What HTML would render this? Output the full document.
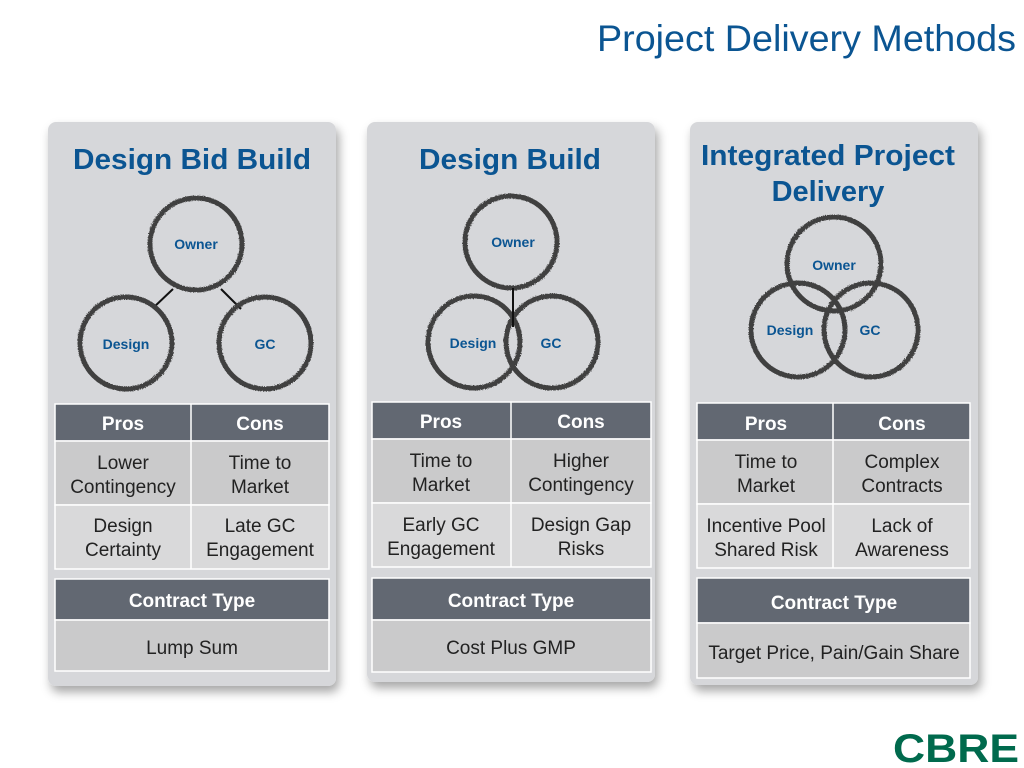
<!DOCTYPE html>
<html><head><meta charset="utf-8"><style>
html,body{margin:0;padding:0;background:#fff;width:1024px;height:768px;overflow:hidden}
svg{display:block}
text{font-family:"Liberation Sans",Arial,sans-serif}
.t{fill:#0b5592;font-weight:bold;font-size:29px;text-anchor:middle}
.h{fill:#fff;font-weight:bold;font-size:19px;text-anchor:middle}
.c{fill:#222;font-size:19px;text-anchor:middle}
.l{fill:#0b5592;font-weight:bold;font-size:14px;text-anchor:middle}
.ring{fill:none;stroke:#404040;stroke-width:5;filter:url(#rough)}
.g{stroke:#fff;stroke-width:1.5}
</style></head><body>
<svg width="1024" height="768" viewBox="0 0 1024 768" xmlns="http://www.w3.org/2000/svg">
<defs>
<filter id="sh" x="-10%" y="-10%" width="125%" height="125%"><feDropShadow dx="3" dy="6" stdDeviation="5" flood-color="#000" flood-opacity="0.35"/></filter>
<filter id="rough" x="-10%" y="-10%" width="120%" height="120%"><feTurbulence type="fractalNoise" baseFrequency="0.9" numOctaves="2" result="n"/><feDisplacementMap in="SourceGraphic" in2="n" scale="2.5"/></filter>
</defs>
<text x="1016" y="51" fill="#0b5592" font-size="37" text-anchor="end" textLength="419" lengthAdjust="spacingAndGlyphs">Project Delivery Methods</text>

<rect x="48" y="122" width="288" height="564" rx="8" fill="#d6d7da" filter="url(#sh)"/>
<rect x="367" y="122" width="288" height="560" rx="8" fill="#d6d7da" filter="url(#sh)"/>
<rect x="690" y="122" width="288" height="563" rx="8" fill="#d6d7da" filter="url(#sh)"/>

<!-- Panel 1 -->
<text class="t" x="192" y="169" textLength="238" lengthAdjust="spacingAndGlyphs">Design Bid Build</text>
<line x1="173" y1="289" x2="153" y2="308" stroke="#111" stroke-width="2"/>
<line x1="221" y1="289" x2="241" y2="309" stroke="#111" stroke-width="2"/>
<circle class="ring" cx="196" cy="244" r="46"/>
<circle class="ring" cx="126" cy="343" r="46"/>
<circle class="ring" cx="265" cy="343" r="46"/>
<text class="l" x="196" y="249">Owner</text>
<text class="l" x="126" y="349">Design</text>
<text class="l" x="265" y="349">GC</text>
<g class="g">
<rect x="55" y="404" width="274" height="37" fill="#626872"/>
<rect x="55" y="441" width="274" height="64" fill="#cacacb"/>
<rect x="55" y="505" width="274" height="64" fill="#d9d9da"/>
<line x1="191" y1="404" x2="191" y2="569"/>
<rect x="55" y="579" width="274" height="41" fill="#626872"/>
<rect x="55" y="620" width="274" height="51" fill="#cacacb"/>
</g>
<text class="h" x="123" y="430">Pros</text><text class="h" x="260" y="430">Cons</text>
<text class="c" x="123" y="469">Lower</text><text class="c" x="123" y="493">Contingency</text>
<text class="c" x="260" y="469">Time to</text><text class="c" x="260" y="493">Market</text>
<text class="c" x="123" y="532">Design</text><text class="c" x="123" y="556">Certainty</text>
<text class="c" x="260" y="532">Late GC</text><text class="c" x="260" y="556">Engagement</text>
<text class="h" x="192" y="607">Contract Type</text>
<text class="c" x="192" y="654">Lump Sum</text>

<!-- Panel 2 -->
<text class="t" x="510" y="169" textLength="182" lengthAdjust="spacingAndGlyphs">Design Build</text>
<circle class="ring" cx="511" cy="242" r="46"/>
<circle class="ring" cx="474" cy="342" r="46"/>
<circle class="ring" cx="552" cy="342" r="46"/>
<line x1="513" y1="288" x2="513" y2="327" stroke="#111" stroke-width="2"/>
<text class="l" x="513" y="247">Owner</text>
<text class="l" x="473" y="348">Design</text>
<text class="l" x="551" y="348">GC</text>
<g class="g">
<rect x="372" y="402" width="279" height="37" fill="#626872"/>
<rect x="372" y="439" width="279" height="64" fill="#cacacb"/>
<rect x="372" y="503" width="279" height="64" fill="#d9d9da"/>
<line x1="511" y1="402" x2="511" y2="567"/>
<rect x="372" y="578" width="279" height="42" fill="#626872"/>
<rect x="372" y="620" width="279" height="52" fill="#cacacb"/>
</g>
<text class="h" x="441" y="428">Pros</text><text class="h" x="581" y="428">Cons</text>
<text class="c" x="441" y="467">Time to</text><text class="c" x="441" y="491">Market</text>
<text class="c" x="581" y="467">Higher</text><text class="c" x="581" y="491">Contingency</text>
<text class="c" x="441" y="531">Early GC</text><text class="c" x="441" y="555">Engagement</text>
<text class="c" x="581" y="531">Design Gap</text><text class="c" x="581" y="555">Risks</text>
<text class="h" x="511" y="607">Contract Type</text>
<text class="c" x="511" y="654">Cost Plus GMP</text>

<!-- Panel 3 -->
<text class="t" x="828" y="165" textLength="254" lengthAdjust="spacingAndGlyphs">Integrated Project</text>
<text class="t" x="828" y="201">Delivery</text>
<circle class="ring" cx="834" cy="264" r="47"/>
<circle class="ring" cx="798" cy="330" r="47"/>
<circle class="ring" cx="871" cy="330" r="47"/>
<text class="l" x="834" y="270">Owner</text>
<text class="l" x="790" y="335">Design</text>
<text class="l" x="870" y="335">GC</text>
<g class="g">
<rect x="697" y="403" width="273" height="37" fill="#626872"/>
<rect x="697" y="440" width="273" height="64" fill="#cacacb"/>
<rect x="697" y="504" width="273" height="64" fill="#d9d9da"/>
<line x1="833" y1="403" x2="833" y2="568"/>
<rect x="697" y="578" width="273" height="45" fill="#626872"/>
<rect x="697" y="623" width="273" height="55" fill="#cacacb"/>
</g>
<text class="h" x="766" y="430">Pros</text><text class="h" x="902" y="430">Cons</text>
<text class="c" x="766" y="468">Time to</text><text class="c" x="766" y="492">Market</text>
<text class="c" x="902" y="468">Complex</text><text class="c" x="902" y="492">Contracts</text>
<text class="c" x="766" y="532">Incentive Pool</text><text class="c" x="766" y="556">Shared Risk</text>
<text class="c" x="902" y="532">Lack of</text><text class="c" x="902" y="556">Awareness</text>
<text class="h" x="834" y="609">Contract Type</text>
<text class="c" x="834" y="659">Target Price, Pain/Gain Share</text>

<text x="1019" y="762" fill="#006a4d" font-weight="bold" font-size="40" text-anchor="end" textLength="126" lengthAdjust="spacingAndGlyphs">CBRE</text>
</svg>
</body></html>
